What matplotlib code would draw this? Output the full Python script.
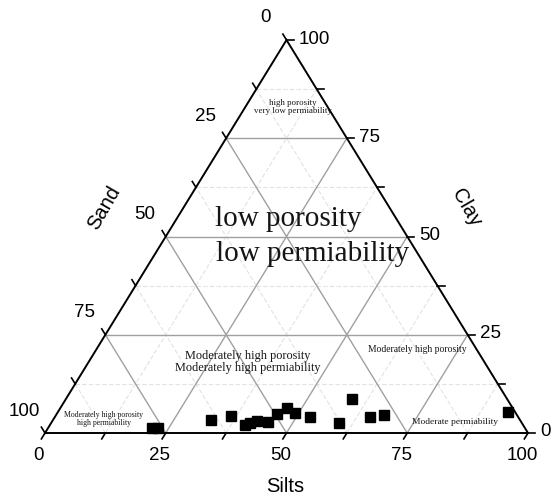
import matplotlib
matplotlib.use('Agg')
import matplotlib.pyplot as plt
import matplotlib.transforms as mtrans
import numpy as np

# sample compositions (percent)
silts = [21.5, 22.8, 32.7, 36.3, 40.4, 41.2, 42.4, 44.8, 45.6, 46.9, 49.2,
         52.8, 59.6, 59.2, 65.2, 67.9, 93.2]
clay = [1.3, 1.3, 3.3, 4.3, 2.0, 2.5, 3.0, 2.8, 4.8, 6.4, 5.1,
        4.1, 2.5, 8.7, 4.1, 4.6, 5.3]

major = [25, 50, 75]
minor = [12.5, 37.5, 62.5, 87.5]
tick_vals = [0, 12.5, 25, 37.5, 50, 62.5, 75, 87.5, 100]
label_vals = [0, 25, 50, 75, 100]

def xy(s, c):
    s = np.asarray(s, float)
    c = np.asarray(c, float)
    return s + c / 2.0, c

fig = plt.figure(figsize=(5.52, 4.99), dpi=100)
ax = fig.add_axes([45 / 552, 66 / 499, 483 / 552, 393 / 499])
ax.set_xlim(0, 100)
ax.set_ylim(0, 100)
ax.axis('off')

def off(dx, dy):
    return mtrans.offset_copy(ax.transData, fig=fig, x=dx, y=dy, units='dots')

# grid lines
def gridline(v, **kw):
    # constant clay
    ax.plot([v / 2, 100 - v / 2], [v, v], **kw)
    # constant silts (parallel to left edge)
    ax.plot([v, v + (100 - v) / 2], [0, 100 - v], **kw)
    # constant sand (parallel to right edge)
    ax.plot([100 - v, (100 - v) / 2], [0, 100 - v], **kw)

for v in minor:
    gridline(v, color='#e2e2e2', lw=0.8, ls=(0, (4, 2)), zorder=1)
for v in major:
    gridline(v, color='#a0a0a0', lw=1.0, zorder=1)

# triangle frame
ax.plot([0, 100, 50, 0], [0, 0, 100, 0], color='black', lw=1.4, zorder=3,
        clip_on=False, solid_joinstyle='miter')

# ticks
for v in tick_vals:
    # bottom (silts): down-left along left-edge direction
    x0, y0 = xy(v, 0)
    ax.plot([x0, x0 - 0.75], [y0, y0 - 1.5], color='black', lw=1.2,
            clip_on=False, zorder=3)
    # right (clay): horizontal to the right
    x0, y0 = xy(100 - v, v)
    ax.plot([x0, x0 + 1.5], [y0, y0], color='black', lw=1.2,
            clip_on=False, zorder=3)
    # left (sand): up-left along right-edge direction
    x0, y0 = xy(0, 100 - v)
    ax.plot([x0, x0 - 0.75], [y0, y0 + 1.5], color='black', lw=1.2,
            clip_on=False, zorder=3)

tick_font = dict(family='Liberation Sans', fontsize=13.5, color='black')
for v in label_vals:
    x0, y0 = xy(v, 0)
    ax.text(x0, y0, f'{v}', transform=off(-6, -22), ha='center', va='center',
            **tick_font)
    x0, y0 = xy(100 - v, v)
    ax.text(x0, y0, f'{v}', transform=off(12, 1), ha='left', va='center',
            **tick_font)
    x0, y0 = xy(0, 100 - v)
    ax.text(x0, y0, f'{v}', transform=off(-21, 22), ha='center', va='center',
            **tick_font)

title_font = dict(family='Liberation Sans', fontsize=14.5, color='black')
fig.text(285 / 552, 1 - 487 / 499, 'Silts', ha='center', va='center', **title_font)
fig.text(104 / 552, 1 - 208 / 499, 'Sand', ha='center', va='center',
         rotation=60, **title_font)
fig.text(466 / 552, 1 - 208 / 499, 'Clay', ha='center', va='center',
         rotation=-60, **title_font)

# data points
px, py = xy(silts, clay)
ax.plot(px, py, 's', color='black', ms=6.5, zorder=4, clip_on=False)

# region annotations
serif = dict(family='Liberation Serif', color='#151515')
def ftxt(x, y, s, size, **kw):
    fig.text(x / 552, 1 - y / 499, s, fontsize=size, ha='center', va='center',
             linespacing=1.1, **serif, **kw)

ftxt(293, 107, 'high porosity\nvery low permiability', 6.4)
ftxt(288, 219, 'low porosity', 21)
ftxt(313, 254, 'low permiability', 21)
ftxt(248, 362, 'Moderately high porosity\nModerately high permiability', 8.8)
ftxt(417, 349, 'Moderately high porosity', 6.9)
ftxt(104, 419, 'Moderately high porosity\nhigh permiability', 5.6)
ftxt(455, 422, 'Moderate permiability', 6.8)

fig.savefig('out.png', dpi=100, facecolor='white')
